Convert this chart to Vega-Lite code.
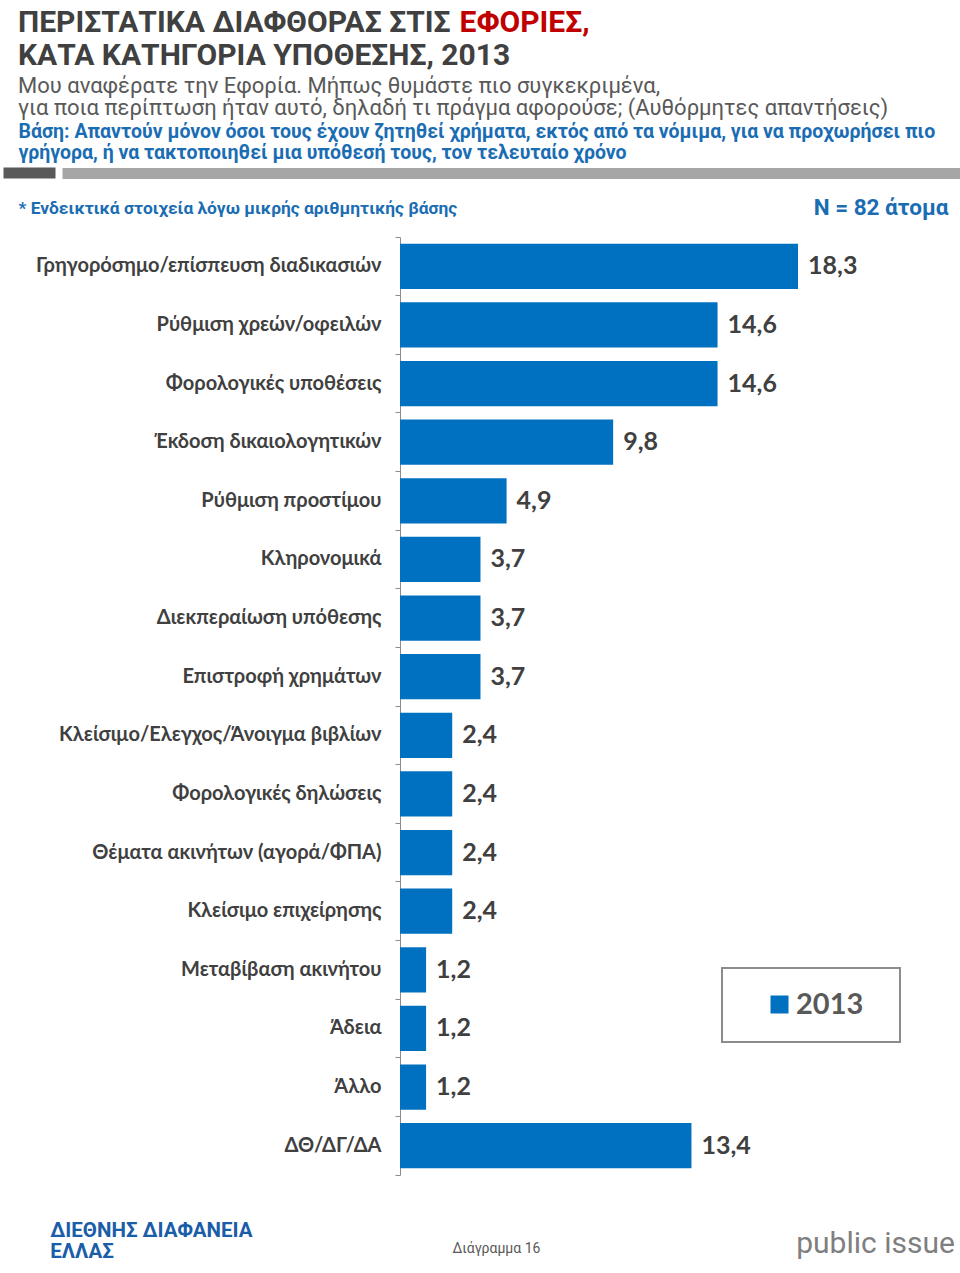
{
  "$schema": "https://vega.github.io/schema/vega-lite/v6.json",
  "width": 435,
  "height": 938,
  "autosize": {"type": "none"},
  "padding": {"left": 400, "top": 237, "right": 125, "bottom": 98},
  "background": "white",
  "config": {
    "view": {"stroke": null},
    "legend": {"strokeWidth": 2},
    "locale": {"number": {"decimal": ",", "thousands": ".", "grouping": [3], "currency": ["", " €"]}}
  },
  "title": {
    "text": ["ΠΕΡΙΣΤΑΤΙΚΑ ΔΙΑΦΘΟΡΑΣ ΣΤΙΣ", "ΚΑΤΑ ΚΑΤΗΓΟΡΙΑ ΥΠΟΘΕΣΗΣ, 2013"],
    "subtitle": ["Μου αναφέρατε την Εφορία. Μήπως θυμάστε πιο συγκεκριμένα,", "για ποια περίπτωση ήταν αυτό, δηλαδή τι πράγμα αφορούσε; (Αυθόρμητες απαντήσεις)"],
    "anchor": "start",
    "frame": "group",
    "orient": "top",
    "dx": -382,
    "offset": -112,
    "font": "Roboto",
    "fontSize": 30,
    "fontWeight": "bold",
    "color": "#404040",
    "lineHeight": 33,
    "subtitleFont": "Roboto",
    "subtitleFontSize": 22,
    "subtitleFontWeight": "normal",
    "subtitleColor": "#595959",
    "subtitleLineHeight": 22,
    "subtitlePadding": 5
  },
  "data": {
    "values": [
      {"category": "Γρηγορόσημο/επίσπευση διαδικασιών", "value": 18.3, "year": "2013"},
      {"category": "Ρύθμιση χρεών/οφειλών", "value": 14.6, "year": "2013"},
      {"category": "Φορολογικές υποθέσεις", "value": 14.6, "year": "2013"},
      {"category": "Έκδοση δικαιολογητικών", "value": 9.8, "year": "2013"},
      {"category": "Ρύθμιση προστίμου", "value": 4.9, "year": "2013"},
      {"category": "Κληρονομικά", "value": 3.7, "year": "2013"},
      {"category": "Διεκπεραίωση υπόθεσης", "value": 3.7, "year": "2013"},
      {"category": "Επιστροφή χρημάτων", "value": 3.7, "year": "2013"},
      {"category": "Κλείσιμο/Ελεγχος/Άνοιγμα βιβλίων", "value": 2.4, "year": "2013"},
      {"category": "Φορολογικές δηλώσεις", "value": 2.4, "year": "2013"},
      {"category": "Θέματα ακινήτων (αγορά/ΦΠΑ)", "value": 2.4, "year": "2013"},
      {"category": "Κλείσιμο επιχείρησης", "value": 2.4, "year": "2013"},
      {"category": "Μεταβίβαση ακινήτου", "value": 1.2, "year": "2013"},
      {"category": "Άδεια", "value": 1.2, "year": "2013"},
      {"category": "Άλλο", "value": 1.2, "year": "2013"},
      {"category": "ΔΘ/ΔΓ/ΔΑ", "value": 13.4, "year": "2013"}
    ]
  },
  "layer": [
    {
      "mark": {"type": "bar", "height": {"band": 0.77}},
      "encoding": {
        "y": {
          "field": "category", "type": "nominal", "sort": null,
          "scale": {"paddingInner": 0, "paddingOuter": 0},
          "axis": {
            "orient": "left",
            "title": ["Βάση: Απαντούν μόνον όσοι τους έχουν ζητηθεί χρήματα, εκτός από τα νόμιμα, για να προχωρήσει πιο", "γρήγορα, ή να τακτοποιηθεί μια υπόθεσή τους, τον τελευταίο χρόνο"],
            "titleAngle": 0, "titleAlign": "left", "titleBaseline": "alphabetic",
            "titleX": -382, "titleY": -100,
            "titleFont": "Roboto", "titleFontSize": 19.5, "titleFontWeight": "bold",
            "titleColor": "#1A6DB3", "titleLineHeight": 21,
            "labelFont": "Lato, Open Sans", "labelFontSize": 20, "labelFontWeight": "bold",
            "labelColor": "#404040", "labelPadding": 14, "labelLimit": 400,
            "tickSize": 5, "tickColor": "#8C8C8C", "domainColor": "#8C8C8C",
            "bandPosition": 1, "tickExtra": true, "grid": false
          }
        },
        "x": {
          "field": "value", "type": "quantitative",
          "scale": {"domain": [-18.3908, 25.7471], "range": [-400, 560], "nice": false, "zero": false},
          "axis": {
            "orient": "top", "labels": false, "domain": false, "grid": false,
            "values": [-17.06], "ticks": true, "tickSize": 11, "tickWidth": 52, "tickColor": "#595959", "offset": 59,
            "title": "* Ενδεικτικά στοιχεία λόγω μικρής αριθμητικής βάσης",
            "titleX": -382, "titleY": 35, "titleAlign": "left", "titleBaseline": "alphabetic", "titleAngle": 0,
            "titleFont": "Roboto", "titleFontSize": 17.4, "titleFontWeight": "bold", "titleColor": "#1A6DB3"
          }
        },
        "color": {
          "field": "year", "type": "nominal",
          "scale": {"range": ["#0070C0"]},
          "legend": {
            "orient": "none", "legendX": 322, "legendY": 731, "title": null,
            "strokeColor": "#8C8C8C", "padding": 22,
            "symbolType": "square", "symbolSize": 324, "symbolStrokeWidth": 0, "symbolOffset": 21,
            "labelFont": "Lato, Open Sans", "labelFontSize": 29, "labelFontWeight": "bold", "labelColor": "#595959",
            "labelOffset": 2, "labelExpr": "datum.label + '\u00a0\u00a0\u200b'"
          }
        }
      }
    },
    {
      "mark": {"type": "text", "align": "left", "baseline": "middle", "dx": 10, "font": "Lato, Open Sans", "fontSize": 25, "fontWeight": "bold", "color": "#404040"},
      "encoding": {
        "y": {
          "field": "category", "type": "nominal", "sort": null,
          "scale": {"paddingInner": 0, "paddingOuter": 0},
          "axis": {
            "orient": "right", "labels": false, "domain": false, "grid": false,
            "values": ["Γρηγορόσημο/επίσπευση διαδικασιών"], "ticks": true, "tickOffset": -93.8,
            "tickSize": -898, "tickWidth": 11, "tickColor": "#A6A6A6", "offset": 125,
            "title": "N = 82 άτομα", "titleAngle": 0, "titleAlign": "right", "titleBaseline": "alphabetic",
            "titleX": -12, "titleY": -23,
            "titleFont": "Roboto", "titleFontSize": 22.5, "titleFontWeight": "bold", "titleColor": "#1A6DB3"
          }
        },
        "x": {
          "field": "value", "type": "quantitative",
          "scale": {"domain": [-18.3908, 25.7471], "range": [-400, 560], "nice": false, "zero": false},
          "axis": {
            "orient": "bottom", "ticks": false, "domain": false, "grid": false,
            "values": [-16.1, 4.41, 21.84],
            "labelExpr": "datum.value < 0 ? ['ΔΙΕΘΝΗΣ ΔΙΑΦΑΝΕΙΑ', 'ΕΛΛΑΣ'] : (datum.value > 20 ? 'public issue' : 'Διάγραμμα 16')",
            "labelFlush": false, "labelOverlap": false, "labelBound": false, "labelLimit": 400,
            "labelFont": "Roboto", "labelLineHeight": 21, "labelBaseline": "alphabetic",
            "labelAlign": {"condition": {"test": "datum.value < 0", "value": "left"}, "value": "center"},
            "labelColor": {"condition": [{"test": "datum.value < 0", "value": "#1A5DA8"}, {"test": "datum.value > 20", "value": "#7F7F7F"}], "value": "#595959"},
            "labelFontSize": {"condition": [{"test": "datum.value < 0", "value": 20.5}, {"test": "datum.value > 20", "value": 30}], "value": 14},
            "labelFontWeight": {"condition": {"test": "datum.value < 0", "value": "bold"}, "value": "normal"},
            "labelPadding": {"condition": {"test": "datum.value < 0", "value": 61}, "value": 77},
            "title": "ΕΦΟΡΙΕΣ,", "titleX": 59, "titleY": -1144, "titleAlign": "left", "titleBaseline": "alphabetic", "titleAngle": 0,
            "titleFont": "Roboto", "titleFontSize": 30, "titleFontWeight": "bold", "titleColor": "#C00000"
          }
        },
        "text": {"field": "value", "type": "quantitative", "format": ".1f"}
      }
    }
  ],
  "resolve": {"scale": {"x": "independent", "y": "independent"}}
}
